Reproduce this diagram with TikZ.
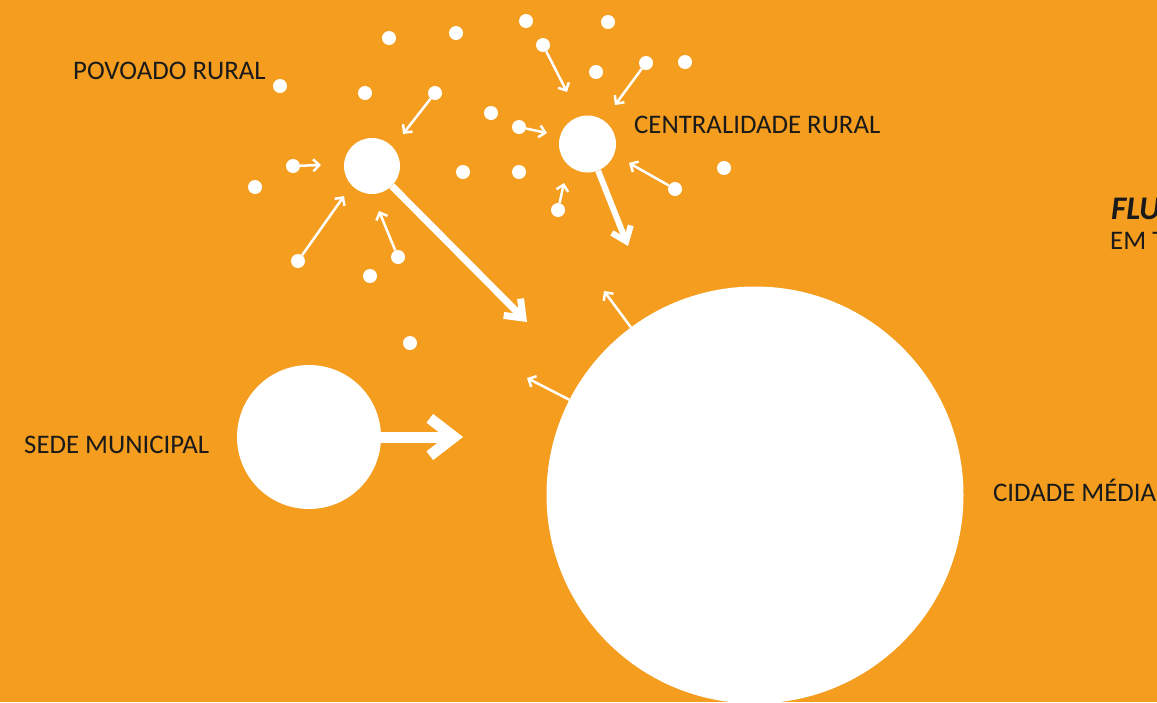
\documentclass[tikz,border=0pt]{standalone}
\usepackage{fontspec}
\setmainfont{Carlito}
\usetikzlibrary{arrows.meta,positioning}
\definecolor{laranja}{HTML}{F49D1E}
\definecolor{tinta}{HTML}{1A1A1A}

\begin{document}
\begin{tikzpicture}[x=1pt,y=-1pt,
  ponto/.style={circle,fill=white,inner sep=0pt,minimum size=14pt},
  polo/.style={circle,fill=white,inner sep=0pt,minimum size=#1},
  fluxo/.style={white,line width=2.5pt,-{Straight Barb[length=6pt,width=12pt]}},
  grosso/.style={white,line width=#1,-{Straight Barb[length=2.2*#1,width=3.4*#1]}},
  rotulo/.style={anchor=base west,inner sep=0pt,text=tinta,font=\fontsize{26.8}{30}\selectfont}]
\fill[laranja] (0,0) rectangle (1157,702);
\clip (0,0) rectangle (1157,702);

% poles
\node[polo=417pt] (cidade) at (755,495) {};
\node[polo=144pt] (sede) at (309,437) {};
\node[polo=56pt] (povoado) at (372,166) {};
\node[polo=57pt] (centralidade) at (587.5,144) {};

% small settlements
\foreach \x/\y [count=\i] in {389/38,456/33,526/21,608/22,543/45,596/72,646/63,685/62,
    280/86,365/93,435/93,491/113,519/127,293/166,255/187,463/172,519/172,724/168,
    675/189,558/210,298/261,398/257,370/276,410/343}
  \node[ponto] (p\i) at (\x,\y) {};

% local flows towards the rural poles
\foreach \i/\x/\y in {5/567/92,7/615/105,11/403/134,13/547/133,14/321/165,
    19/629/163,20/564/183,21/344/196,22/379/211}{
  \coordinate (t\i) at (\x,\y);
  \draw[fluxo] (p\i) -- (t\i);
}

% flows out of the city
\coordinate (c1) at (604,291);
\coordinate (c2) at (527,378);
\draw[fluxo] (cidade) -- (c1);
\draw[fluxo] (cidade) -- (c2);

% main flows
\coordinate (s1) at (463,437);
\coordinate (v1) at (527,322);
\coordinate (r1) at (628,246);
\draw[grosso=11pt] (sede) -- (s1);
\draw[grosso=7pt] (povoado) -- (v1);
\draw[grosso=6pt] (centralidade) -- (r1);

% labels
\node[rotulo] (lpov) at (73,79) {POVOADO RURAL};
\node[rotulo] (lcen) at (634,133) {CENTRALIDADE RURAL};
\node[rotulo] (lsed) at (24,453) {SEDE MUNICIPAL};
\node[rotulo] (lcid) at (993,501) {CIDADE MÉDIA};
\node[rotulo,font=\fontsize{33}{36}\selectfont\bfseries\itshape] (tit) at (1111,219) {FLU};
\node[rotulo] (sub) at (1110,249) {EM T};
\end{tikzpicture}
\end{document}
